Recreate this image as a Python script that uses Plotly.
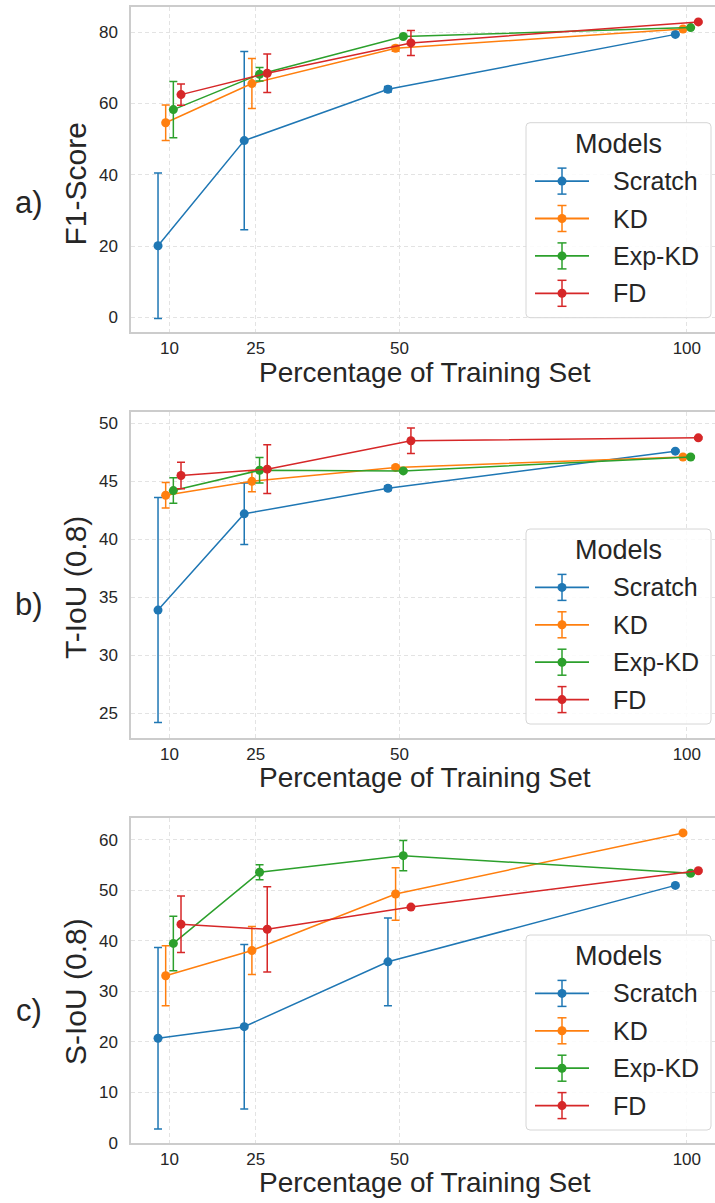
import plotly.graph_objects as go

# ---------------------------------------------------------------- data
percentages = [10, 25, 50, 100]
models = ["Scratch", "KD", "Exp-KD", "FD"]

f1_mean = {
    "Scratch": [20.1, 49.6, 64.0, 79.4],
    "KD": [54.6, 65.6, 75.5, 80.9],
    "Exp-KD": [58.3, 68.2, 78.8, 81.3],
    "FD": [62.5, 68.5, 77.0, 82.9],
}
f1_std = {
    "Scratch": [20.4, 25.0, 0.8, 0.2],
    "KD": [5.0, 7.0, 0.8, 0.2],
    "Exp-KD": [7.9, 1.9, 0.3, 0.2],
    "FD": [3.0, 5.4, 3.5, 0.2],
}

tiou_mean = {
    "Scratch": [33.9, 42.2, 44.4, 47.6],
    "KD": [43.8, 45.0, 46.2, 47.1],
    "Exp-KD": [44.2, 45.95, 45.9, 47.1],
    "FD": [45.5, 46.05, 48.5, 48.75],
}
tiou_std = {
    "Scratch": [9.7, 2.65, 0.2, 0.1],
    "KD": [1.1, 0.9, 0.15, 0.1],
    "Exp-KD": [1.1, 1.1, 0.1, 0.1],
    "FD": [1.15, 2.1, 1.1, 0.1],
}

siou_mean = {
    "Scratch": [20.7, 23.0, 35.85, 51.0],
    "KD": [33.1, 38.1, 49.3, 61.4],
    "Exp-KD": [39.5, 53.6, 56.9, 53.4],
    "FD": [43.3, 42.3, 46.7, 53.9],
}
siou_std = {
    "Scratch": [18.0, 16.3, 8.7, 0.2],
    "KD": [5.95, 4.75, 5.2, 0.2],
    "Exp-KD": [5.4, 1.5, 3.0, 0.2],
    "FD": [5.6, 8.45, 0.2, 0.2],
}

x_ticks = [10, 25, 50, 100]
y_ticks_f1 = [0, 20, 40, 60, 80]
y_ticks_tiou = [25, 30, 35, 40, 45, 50]
y_ticks_siou = [0, 10, 20, 30, 40, 50, 60]

# ---------------------------------------------------------------- styling
W, H = 715, 1203
FONT = "Liberation Sans, Arial, sans-serif"
TEXT = "#262626"
FRAME = "#cccccc"
GRID = "#e3e3e3"
colors = {"Scratch": "#1f77b4", "KD": "#ff7f0e", "Exp-KD": "#2ca02c", "FD": "#d62728"}
# horizontal dodge so the four series do not overlap at a shared x
dodge = {"Scratch": -2.0, "KD": -2.0 / 3, "Exp-KD": 2.0 / 3, "FD": 2.0}

PLOT_LEFT, PLOT_RIGHT = 131, 715


def px(x):
    return x / W


def py(y):
    return 1 - y / H


panels = [
    dict(mean=f1_mean, std=f1_std, yr=[-4.2, 87.0], ticks=y_ticks_f1,
         ylabel="F1-Score", tag="a)", top=7.3, bottom=332.3, leg_bottom=317.7,
         ylab_y=184.5, tag_y=203),
    dict(mean=tiou_mean, std=tiou_std, yr=[22.9, 50.95], ticks=y_ticks_tiou,
         ylabel="T-IoU (0.8)", tag="b)", top=412.3, bottom=737.7, leg_bottom=724.0,
         ylab_y=588, tag_y=604),
    dict(mean=siou_mean, std=siou_std, yr=[0, 64.3], ticks=y_ticks_siou,
         ylabel="S-IoU (0.8)", tag="c)", top=818.3, bottom=1142.7, leg_bottom=1130.0,
         ylab_y=992, tag_y=1010),
]

fig = go.Figure()
shapes = []
annotations = []
layout_axes = {}

for i, p in enumerate(panels):
    n = "" if i == 0 else str(i + 1)
    xa, ya = "x" + n, "y" + n
    for m in models:
        fig.add_trace(go.Scatter(
            x=[v + dodge[m] for v in percentages],
            y=p["mean"][m],
            error_y=dict(type="data", array=p["std"][m], visible=True,
                         color=colors[m], thickness=1.5, width=4),
            mode="lines+markers",
            name=m,
            line=dict(color=colors[m], width=1.5),
            marker=dict(color=colors[m], size=9),
            xaxis=xa, yaxis=ya,
            showlegend=False,
        ))

    layout_axes["xaxis" + n] = dict(
        domain=[px(PLOT_LEFT), px(PLOT_RIGHT)],
        anchor=ya, range=[3.3, 104.9],
        tickvals=x_ticks, ticktext=[str(t) for t in x_ticks],
        showgrid=True, gridcolor=GRID, griddash="4px,3px", gridwidth=1,
        zeroline=False, showline=True, linecolor=FRAME, linewidth=1.5, mirror=True,
        ticks="",
        tickfont=dict(family=FONT, size=17, color=TEXT),
        automargin=False,
    )
    layout_axes["yaxis" + n] = dict(
        domain=[py(p["bottom"]), py(p["top"])],
        anchor=xa, range=p["yr"],
        tickvals=p["ticks"],
        showgrid=True, gridcolor=GRID, griddash="4px,3px", gridwidth=1,
        zeroline=False, showline=True, linecolor=FRAME, linewidth=1.5, mirror=False,
        ticks="outside", ticklen=8, tickcolor="rgba(0,0,0,0)",
        tickfont=dict(family=FONT, size=17, color=TEXT),
        automargin=False,
    )

    # axis titles and panel tag
    annotations.append(dict(
        text="Percentage of Training Set", x=px(425), y=py(p["bottom"] + 40),
        xref="paper", yref="paper", showarrow=False, xanchor="center", yanchor="middle",
        font=dict(family=FONT, size=28, color=TEXT)))
    annotations.append(dict(
        text=p["ylabel"], x=px(75), y=py(p["ylab_y"]), textangle=-90,
        xref="paper", yref="paper", showarrow=False, xanchor="center", yanchor="middle",
        font=dict(family=FONT, size=30, color=TEXT)))
    annotations.append(dict(
        text=p["tag"], x=px(29), y=py(p["tag_y"]),
        xref="paper", yref="paper", showarrow=False, xanchor="center", yanchor="middle",
        font=dict(family=FONT, size=31, color=TEXT)))

    # legend box with rounded corners
    lx0, lx1 = 526, 711
    ly1 = p["leg_bottom"]
    ly0 = ly1 - 195
    r = 4
    path = (
        f"M {px(lx0 + r)},{py(ly0)} L {px(lx1 - r)},{py(ly0)} "
        f"Q {px(lx1)},{py(ly0)} {px(lx1)},{py(ly0 + r)} "
        f"L {px(lx1)},{py(ly1 - r)} Q {px(lx1)},{py(ly1)} {px(lx1 - r)},{py(ly1)} "
        f"L {px(lx0 + r)},{py(ly1)} Q {px(lx0)},{py(ly1)} {px(lx0)},{py(ly1 - r)} "
        f"L {px(lx0)},{py(ly0 + r)} Q {px(lx0)},{py(ly0)} {px(lx0 + r)},{py(ly0)} Z"
    )
    shapes.append(dict(type="path", path=path, xref="paper", yref="paper",
                       fillcolor="rgba(255,255,255,0.85)",
                       line=dict(color="#d6d6d6", width=1), layer="above"))
    annotations.append(dict(
        text="Models", x=px(618), y=py(ly0 + 21), xref="paper", yref="paper",
        showarrow=False, xanchor="center", yanchor="middle",
        font=dict(family=FONT, size=27, color=TEXT)))
    for k, m in enumerate(models):
        yy = ly0 + 58.4 + 37.4 * k
        c = colors[m]
        shapes.append(dict(type="line", xref="paper", yref="paper",
                           x0=px(535), x1=px(589), y0=py(yy), y1=py(yy),
                           line=dict(color=c, width=1.8), layer="above"))
        shapes.append(dict(type="line", xref="paper", yref="paper",
                           x0=px(562), x1=px(562), y0=py(yy - 13), y1=py(yy + 13),
                           line=dict(color=c, width=1.5), layer="above"))
        for dy in (-13, 13):
            shapes.append(dict(type="line", xref="paper", yref="paper",
                               x0=px(557.5), x1=px(566.5), y0=py(yy + dy), y1=py(yy + dy),
                               line=dict(color=c, width=1.5), layer="above"))
        shapes.append(dict(type="circle", xref="paper", yref="paper",
                           x0=px(557.5), x1=px(566.5), y0=py(yy - 4.5), y1=py(yy + 4.5),
                           fillcolor=c, line=dict(color=c, width=0), layer="above"))
        annotations.append(dict(
            text=m, x=px(611), y=py(yy), xref="paper", yref="paper",
            showarrow=False, xanchor="left", yanchor="middle",
            font=dict(family=FONT, size=25, color=TEXT)))

fig.update_layout(
    width=W, height=H,
    margin=dict(l=0, r=0, t=0, b=0),
    paper_bgcolor="white", plot_bgcolor="white",
    template="none",
    showlegend=False,
    shapes=shapes,
    annotations=annotations,
    font=dict(family=FONT, color=TEXT),
    **layout_axes,
)

fig.write_html("out.html")
